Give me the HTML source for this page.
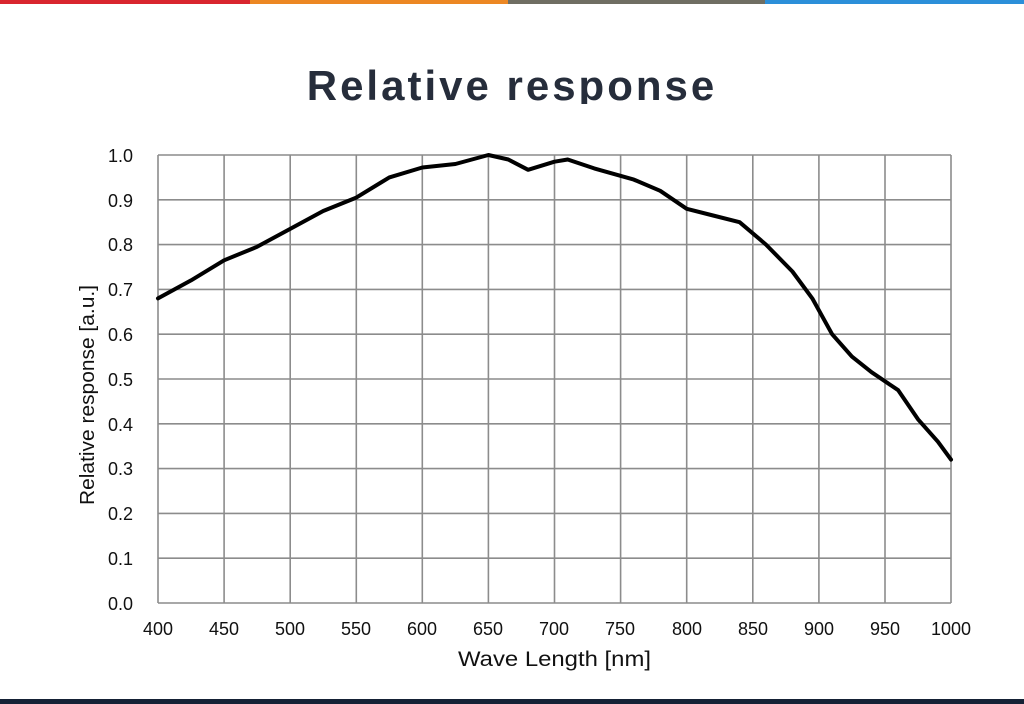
<!DOCTYPE html>
<html><head><meta charset="utf-8"><style>
html,body{margin:0;padding:0;background:#fff;width:1024px;height:704px;overflow:hidden;position:relative;font-family:"Liberation Sans",Arial,sans-serif}
.bar{position:absolute;top:0;height:4px}
.title{position:absolute;left:0;width:1024px;top:56px;height:48px;overflow:hidden;text-align:center;font-weight:bold;font-size:42px;letter-spacing:3px;color:#262d3b;line-height:60px}
</style></head><body>
<div class="bar" style="left:0;width:250px;background:#d9252e"></div>
<div class="bar" style="left:250px;width:258px;background:#ec8723"></div>
<div class="bar" style="left:508px;width:257px;background:#6f6e63"></div>
<div class="bar" style="left:765px;width:259px;background:#2b8fd9"></div>
<div class="title">Relative response</div>
<div style="position:absolute;left:0;top:699px;width:1024px;height:5px;background:#152135"></div>
<svg width="1024" height="704" style="position:absolute;left:0;top:0" font-family="Liberation Sans, Arial, sans-serif" font-size="18" fill="#111">
<g stroke="#8c8c8c" stroke-width="1.6">
<line x1="158" y1="155" x2="951" y2="155"/><line x1="158" y1="199.8" x2="951" y2="199.8"/><line x1="158" y1="244.6" x2="951" y2="244.6"/><line x1="158" y1="289.4" x2="951" y2="289.4"/><line x1="158" y1="334.2" x2="951" y2="334.2"/><line x1="158" y1="379" x2="951" y2="379"/><line x1="158" y1="423.8" x2="951" y2="423.8"/><line x1="158" y1="468.6" x2="951" y2="468.6"/><line x1="158" y1="513.4" x2="951" y2="513.4"/><line x1="158" y1="558.2" x2="951" y2="558.2"/><line x1="158" y1="603" x2="951" y2="603"/>
<line x1="158" y1="155" x2="158" y2="603"/><line x1="224.1" y1="155" x2="224.1" y2="603"/><line x1="290.2" y1="155" x2="290.2" y2="603"/><line x1="356.3" y1="155" x2="356.3" y2="603"/><line x1="422.3" y1="155" x2="422.3" y2="603"/><line x1="488.4" y1="155" x2="488.4" y2="603"/><line x1="554.5" y1="155" x2="554.5" y2="603"/><line x1="620.6" y1="155" x2="620.6" y2="603"/><line x1="686.7" y1="155" x2="686.7" y2="603"/><line x1="752.8" y1="155" x2="752.8" y2="603"/><line x1="818.9" y1="155" x2="818.9" y2="603"/><line x1="885" y1="155" x2="885" y2="603"/><line x1="951" y1="155" x2="951" y2="603"/>
</g>
<g text-anchor="end">
<text x="133" y="162">1.0</text><text x="133" y="207">0.9</text><text x="133" y="251">0.8</text><text x="133" y="296">0.7</text><text x="133" y="341">0.6</text><text x="133" y="386">0.5</text><text x="133" y="431">0.4</text><text x="133" y="475">0.3</text><text x="133" y="520">0.2</text><text x="133" y="565">0.1</text><text x="133" y="610">0.0</text>
</g>
<g text-anchor="middle">
<text x="158" y="635">400</text><text x="224" y="635">450</text><text x="290" y="635">500</text><text x="356" y="635">550</text><text x="422" y="635">600</text><text x="488" y="635">650</text><text x="554" y="635">700</text><text x="620" y="635">750</text><text x="687" y="635">800</text><text x="753" y="635">850</text><text x="819" y="635">900</text><text x="885" y="635">950</text><text x="951" y="635">1000</text>
</g>
<text x="458" y="666" font-size="21" textLength="193" lengthAdjust="spacingAndGlyphs">Wave Length [nm]</text>
<text transform="translate(94,505) rotate(-90)" font-size="20" textLength="220" lengthAdjust="spacingAndGlyphs">Relative response [a.u.]</text>
<polyline fill="none" stroke="#000" stroke-width="4" stroke-linejoin="round" stroke-linecap="round" points="158,298.4 191,280.4 224.1,260.3 257.1,246.8 290.2,228.9 323.2,211 356.3,197.6 389.3,177.4 422.3,167.5 455.4,164 488.4,155 508.3,159.5 528.1,169.8 554.5,161.7 567.7,159.5 594.2,168.4 633.8,179.6 660.2,190.8 686.7,208.8 713.1,215.5 739.6,222.2 766,244.6 792.4,271.5 812.3,298.4 832.1,334.2 851.9,356.6 871.7,372.3 898.2,390.2 918,419.3 937.9,441.7 951,459.6"/>
</svg>
</body></html>
